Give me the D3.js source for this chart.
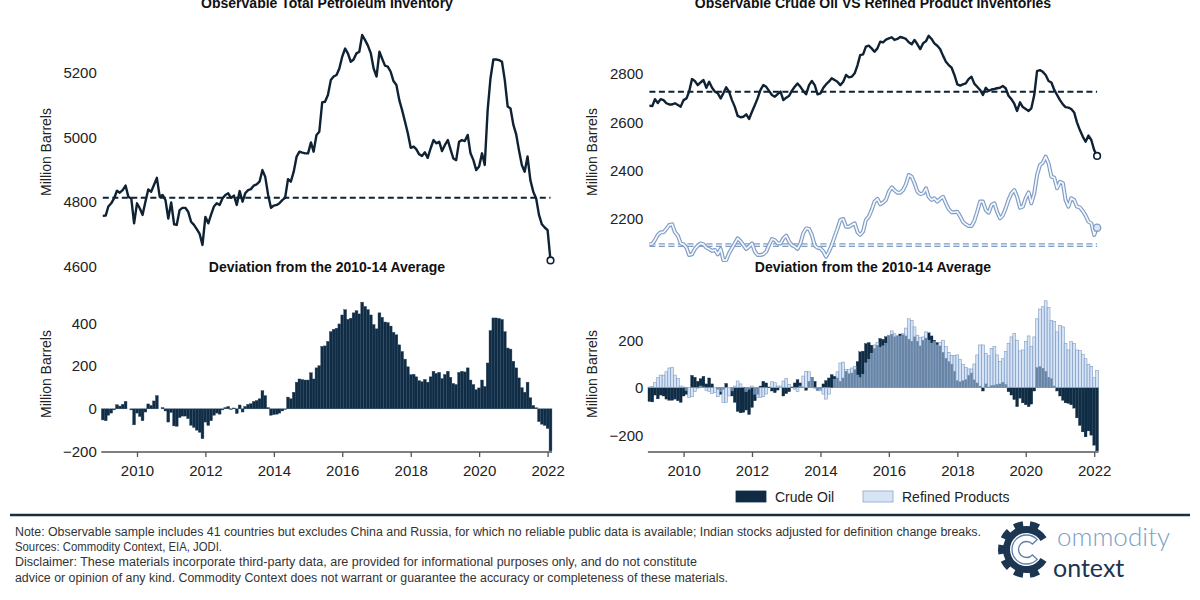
<!DOCTYPE html>
<html><head><meta charset="utf-8">
<script src="https://cdn.jsdelivr.net/npm/d3@7"></script>
<style>
body{margin:0;background:#fff}
svg text{font-family:"Liberation Sans",Arial,Helvetica,sans-serif}
</style></head>
<body><svg id="chart" width="1200" height="600"></svg>
<script>
// ---------- DATA (monthly, Jan 2009 - Feb 2022) ----------
const startYear = 2009;
const totalInv = [4756,4757,4785,4795,4810,4834,4828,4836,4850,4815,4810,4733,4795,4779,4759,4800,4838,4831,4852,4874,4815,4821,4805,4748,4798,4730,4728,4774,4781,4781,4769,4738,4728,4715,4700,4666,4753,4733,4759,4785,4795,4790,4810,4821,4826,4812,4819,4790,4833,4800,4826,4836,4839,4850,4854,4862,4898,4877,4821,4781,4788,4790,4795,4805,4812,4870,4862,4893,4940,4955,4952,4950,4950,4984,4955,5007,5017,5108,5110,5131,5177,5188,5193,5213,5250,5275,5260,5234,5241,5260,5265,5317,5301,5284,5260,5213,5188,5265,5244,5222,5219,5203,5174,5162,5115,5084,5048,5012,4967,4971,4963,4947,4942,4953,4936,4965,4991,4981,4986,4957,4976,4991,4963,4934,4929,4986,4991,4988,5007,4950,4929,4898,4909,4950,4914,5084,5182,5241,5241,5239,5234,5177,5095,5089,5038,5007,4960,4914,4893,4940,4867,4831,4810,4759,4730,4720,4712,4618];
const totalDev = [-52,-56,-30,-20,-5,19,13,21,35,0,-5,-75,-20,-36,-56,-15,23,16,37,62,0,6,-10,-62,-17,-80,-82,-41,-34,-34,-46,-77,-87,-100,-110,-140,-62,-78,-56,-30,-20,-25,-5,6,11,-3,4,-22,18,-15,11,21,24,35,39,47,85,62,6,-30,-27,-25,-20,-10,-3,55,47,78,125,140,137,135,135,169,140,192,202,293,295,316,362,373,378,398,440,465,420,425,450,460,445,500,480,465,440,395,375,450,429,407,404,388,359,347,300,269,233,197,160,162,150,132,127,138,125,150,176,166,171,142,161,176,148,119,114,171,176,173,192,135,114,90,98,135,105,215,367,426,426,424,419,362,285,280,223,192,145,99,78,125,52,16,5,-60,-72,-78,-92,-197];
const crudeInv = [2669,2667,2696,2680,2696,2692,2679,2674,2674,2679,2672,2665,2692,2699,2727,2779,2771,2754,2765,2775,2743,2768,2743,2727,2720,2699,2720,2745,2727,2692,2665,2627,2621,2623,2633,2614,2644,2672,2699,2734,2754,2747,2730,2713,2706,2717,2727,2692,2702,2710,2730,2747,2761,2747,2730,2716,2754,2771,2754,2716,2720,2743,2757,2768,2782,2775,2768,2754,2768,2796,2786,2789,2803,2837,2878,2881,2913,2917,2906,2892,2906,2934,2931,2942,2947,2952,2941,2945,2953,2950,2945,2931,2923,2941,2923,2903,2927,2936,2958,2945,2927,2917,2903,2876,2851,2837,2826,2796,2757,2752,2757,2761,2779,2789,2760,2747,2734,2713,2743,2730,2736,2738,2741,2743,2750,2741,2710,2696,2677,2647,2683,2663,2655,2647,2658,2713,2812,2816,2809,2796,2771,2765,2734,2713,2692,2674,2663,2661,2655,2641,2600,2568,2541,2520,2545,2527,2485,2461];
const refinedInv = [2095,2097,2113,2134,2145,2145,2159,2175,2178,2145,2131,2099,2095,2081,2051,2054,2076,2090,2099,2095,2081,2076,2068,2072,2054,2076,2030,2030,2058,2079,2099,2120,2108,2092,2076,2086,2099,2065,2051,2051,2054,2065,2092,2117,2113,2099,2099,2120,2131,2106,2092,2086,2076,2099,2141,2161,2159,2134,2090,2081,2079,2065,2044,2065,2092,2127,2159,2196,2200,2168,2168,2175,2182,2145,2134,2148,2196,2210,2237,2272,2283,2261,2268,2279,2313,2331,2319,2309,2309,2320,2343,2382,2375,2348,2313,2303,2306,2327,2292,2279,2286,2272,2283,2292,2265,2241,2228,2228,2230,2210,2189,2178,2171,2171,2192,2230,2272,2272,2237,2226,2258,2265,2230,2203,2214,2244,2279,2306,2320,2292,2247,2251,2286,2310,2265,2306,2382,2423,2433,2458,2430,2375,2371,2327,2354,2348,2279,2251,2286,2279,2251,2248,2233,2214,2189,2182,2134,2164];
const crudeDev = [-58,-60,-31,-47,-31,-35,-48,-53,-53,-48,-55,-62,-35,-28,0,52,44,27,38,48,16,41,16,0,-7,-28,-7,18,0,-35,-62,-100,-106,-104,-94,-113,-83,-55,-28,7,27,20,3,-14,-21,-10,0,-35,-25,-17,3,20,34,20,3,-11,27,44,27,-11,-7,16,30,41,55,48,41,27,41,69,59,62,76,110,151,154,186,190,179,165,179,207,204,215,220,225,214,218,226,223,218,204,196,214,196,176,200,209,231,218,200,190,176,149,124,110,99,69,30,25,30,34,52,62,33,20,7,-14,16,3,9,11,14,16,23,14,-17,-31,-50,-80,-44,-64,-72,-80,-69,-14,85,89,82,69,44,38,7,-14,-35,-53,-64,-66,-72,-86,-127,-159,-186,-207,-182,-200,-242,-266];
const refinedDev = [3,5,21,42,53,53,67,83,86,53,39,7,3,-11,-41,-38,-16,-2,7,3,-11,-16,-24,-20,-38,-16,-62,-62,-34,-13,7,28,16,0,-16,-6,7,-27,-41,-41,-38,-27,0,25,21,7,7,28,39,14,0,-6,-16,7,49,69,67,42,-2,-11,-13,-27,-48,-27,0,35,67,104,108,76,76,83,90,53,42,56,104,118,145,180,191,169,176,187,221,239,227,217,217,228,251,290,283,256,221,211,214,235,200,187,194,180,191,200,173,149,136,136,138,118,97,86,79,79,100,138,180,180,145,134,166,173,138,111,122,152,187,214,228,200,155,159,194,218,173,214,290,331,341,366,338,283,279,235,262,256,187,159,194,187,159,156,141,122,97,90,42,72];
const totalAvg = 4812, crudeAvg = 2727, refinedAvg = 2092;
const yearTicks = [2010,2012,2014,2016,2018,2020,2022];
const ticksTL = [4600,4800,5000,5200];
const ticksTR = [2200,2400,2600,2800];
const ticksBL = [-200,0,200,400];
const ticksBR = [-200,0,200];
const legendItems = ["Crude Oil","Refined Products"];
const footLines = [
 "Note: Observable sample includes 41 countries but excludes China and Russia, for which no reliable public data is available; Indian stocks adjusted for definition change breaks.",
 "Sources: Commodity Context, EIA, JODI.",
 "Disclaimer: These materials incorporate third-party data, are provided for informational purposes only, and do not constitute",
 "advice or opinion of any kind. Commodity Context does not warrant or guarantee the accuracy or completeness of these materials."
];

// ---------- SETUP ----------
const svg = d3.select("#chart");
const months = totalInv.map((_, i) => new Date(startYear, i, 1));
const NAVY = "#0e2234", BAR = "#0f2c44", STEEL = "#7f9cc4";
const minus = s => String(s).replace("-", "\u2212");

const xL = d3.scaleTime().domain([new Date(2009,0,1), new Date(2022,0,1)]).range([102.8, 547.6]);
const xR = d3.scaleTime().domain([new Date(2009,0,1), new Date(2022,0,1)]).range([649.4, 1094.2]);
const yTL = d3.scaleLinear().domain([4600, 5200]).range([266.2, 72.7]);
const yTR = d3.scaleLinear().domain([2200, 2800]).range([219, 74]);
const yBL = d3.scaleLinear().domain([-200, 400]).range([451.5, 323.5]);
const yBR = d3.scaleLinear().domain([-200, 200]).range([435.2, 340.2]);
const bw = 2.85;

function yAxis(scale, ticks, xPos) {
  const g = svg.append("g").attr("transform", `translate(${xPos},0)`)
    .call(d3.axisLeft(scale).tickValues(ticks).tickSize(0).tickPadding(6).tickFormat(minus));
  g.select(".domain").remove();
  g.selectAll("text").attr("font-size", 15).attr("fill", "#222")
    .style("font-family", '"Liberation Sans",Arial,sans-serif');
}
function xAxis(scale, yPos) {
  const g = svg.append("g").attr("transform", `translate(0,${yPos})`)
    .call(d3.axisBottom(scale).tickValues(yearTicks.map(y => new Date(y,0,1)))
      .tickSize(5).tickPadding(8.4).tickFormat(d3.timeFormat("%Y")));
  g.select(".domain").remove();
  g.selectAll("line").attr("stroke", "#555").attr("stroke-width", 1.3);
  g.selectAll("text").attr("font-size", 15).attr("fill", "#222")
    .style("font-family", '"Liberation Sans",Arial,sans-serif');
  const r = scale.range();
  g.append("line").attr("x1", r[0] - 1.5).attr("x2", scale(months[months.length-1]) + 1.5)
    .attr("y1", 0).attr("y2", 0).attr("stroke", "#555").attr("stroke-width", 1.5);
}
function title(text, x, y) {
  svg.append("text").attr("x", x).attr("y", y).attr("text-anchor", "middle")
    .attr("font-size", 14).attr("font-weight", "bold").attr("fill", "#111").text(text);
}
function yLabel(x, y) {
  svg.append("text").attr("transform", `translate(${x},${y}) rotate(-90)`)
    .attr("text-anchor", "middle").attr("dy", "0.35em").attr("font-size", 14)
    .attr("fill", "#222").text("Million Barrels");
}

// ---------- TOP LEFT ----------
title("Observable Total Petroleum Inventory", 327, 8);
yAxis(yTL, ticksTL, xL.range()[0]);
yLabel(46, 152);
svg.append("line").attr("x1", xL(months[0])).attr("x2", xL(months[months.length-1]))
  .attr("y1", yTL(totalAvg)).attr("y2", yTL(totalAvg))
  .attr("stroke", NAVY).attr("stroke-width", 2).attr("stroke-dasharray", "6,3.5");
svg.append("path").datum(totalInv)
  .attr("d", d3.line().x((d,i) => xL(months[i])).y(d => yTL(d)))
  .attr("fill", "none").attr("stroke", NAVY).attr("stroke-width", 2.4).attr("stroke-linejoin", "round");
svg.append("circle").attr("cx", xL(months[months.length-1])).attr("cy", yTL(totalInv[totalInv.length-1]))
  .attr("r", 3.3).attr("fill", "#fff").attr("stroke", NAVY).attr("stroke-width", 1.6);

// ---------- TOP RIGHT ----------
title("Observable Crude Oil VS Refined Product Inventories", 873, 8);
yAxis(yTR, ticksTR, xR.range()[0]);
yLabel(592, 152);
const last = months.length - 1;
svg.append("line").attr("x1", xR(months[0])).attr("x2", xR(months[last]))
  .attr("y1", yTR(crudeAvg)).attr("y2", yTR(crudeAvg))
  .attr("stroke", NAVY).attr("stroke-width", 2).attr("stroke-dasharray", "6,3.5");
[[STEEL, 3.6], ["#f4f8fd", 1.4]].forEach(([c, w]) => {
  svg.append("line").attr("x1", xR(months[0])).attr("x2", xR(months[last]))
    .attr("y1", yTR(refinedAvg)).attr("y2", yTR(refinedAvg))
    .attr("stroke", c).attr("stroke-width", w).attr("stroke-dasharray", "6,3.5");
});
svg.append("path").datum(crudeInv)
  .attr("d", d3.line().x((d,i) => xR(months[i])).y(d => yTR(d)))
  .attr("fill", "none").attr("stroke", NAVY).attr("stroke-width", 2.4).attr("stroke-linejoin", "round");
const refLine = d3.line().x((d,i) => xR(months[i])).y(d => yTR(d));
svg.append("path").datum(refinedInv).attr("d", refLine)
  .attr("fill", "none").attr("stroke", STEEL).attr("stroke-width", 4).attr("stroke-linejoin", "round");
svg.append("path").datum(refinedInv).attr("d", refLine)
  .attr("fill", "none").attr("stroke", "#f4f8fd").attr("stroke-width", 1.7).attr("stroke-linejoin", "round");
svg.append("circle").attr("cx", xR(months[last])).attr("cy", yTR(crudeInv[last]))
  .attr("r", 3.3).attr("fill", "#fff").attr("stroke", NAVY).attr("stroke-width", 1.6);
svg.append("circle").attr("cx", xR(months[last])).attr("cy", yTR(refinedInv[last]))
  .attr("r", 3.6).attr("fill", "#dbe7f6").attr("stroke", STEEL).attr("stroke-width", 1.4);

// ---------- BOTTOM LEFT ----------
title("Deviation from the 2010-14 Average", 327, 272);
yAxis(yBL, ticksBL, xL.range()[0]);
yLabel(46, 374);
svg.append("g").selectAll("rect").data(totalDev).join("rect")
  .attr("x", (d,i) => xL(months[i]) - bw/2).attr("width", bw)
  .attr("y", d => yBL(Math.max(0, d))).attr("height", d => Math.abs(yBL(d) - yBL(0)))
  .attr("fill", BAR).attr("stroke", "#2a4763").attr("stroke-width", 0.4);
xAxis(xL, 452);

// ---------- BOTTOM RIGHT ----------
title("Deviation from the 2010-14 Average", 873, 272);
yAxis(yBR, ticksBR, xR.range()[0]);
yLabel(592, 374);
svg.append("g").selectAll("rect").data(crudeDev).join("rect")
  .attr("x", (d,i) => xR(months[i]) - bw/2).attr("width", bw)
  .attr("y", d => yBR(Math.max(0, d))).attr("height", d => Math.abs(yBR(d) - yBR(0)))
  .attr("fill", BAR).attr("stroke", BAR).attr("stroke-width", 0.3);
svg.append("g").selectAll("rect").data(refinedDev).join("rect")
  .attr("x", (d,i) => xR(months[i]) - bw/2).attr("width", bw)
  .attr("y", d => yBR(Math.max(0, d))).attr("height", d => Math.abs(yBR(d) - yBR(0)))
  .attr("fill", "#b4cdee").attr("fill-opacity", 0.55)
  .attr("stroke", STEEL).attr("stroke-width", 0.6);
xAxis(xR, 452);

// legend
const lg = svg.append("g");
const legX = [736, 863];
legendItems.forEach((t, i) => {
  lg.append("rect").attr("x", legX[i]).attr("y", 491).attr("width", 30).attr("height", 11)
    .attr("fill", i === 0 ? BAR : "#d7e4f6").attr("stroke", i === 0 ? BAR : "#8aa5c8").attr("stroke-width", 0.8);
  lg.append("text").attr("x", legX[i] + 39).attr("y", 501.5).attr("font-size", 14)
    .attr("fill", "#222").text(t);
});

// ---------- FOOTER ----------
svg.append("line").attr("x1", 10).attr("x2", 1190).attr("y1", 515).attr("y2", 515)
  .attr("stroke", "#1b2e40").attr("stroke-width", 2.4);
const footW = [966, 207, 682, 713];
footLines.forEach((t, i) => {
  svg.append("text").attr("x", 15).attr("y", 536 + i * 15.2)
    .attr("font-size", 12.5).attr("fill", "#333")
    .style("font-family", '"Liberation Sans Narrow","Arial Narrow","Liberation Sans",Arial,sans-serif')
    .attr("textLength", footW[i]).attr("lengthAdjust", "spacingAndGlyphs").text(t);
});

// logo
const logo = svg.append("g").attr("transform", "translate(1026.5,549.5)");
const open = 0.55;
logo.append("path").attr("d", d3.arc().innerRadius(16.5).outerRadius(23.5)
  .startAngle(Math.PI/2 + open).endAngle(Math.PI/2 + 2*Math.PI - open)()).attr("fill", "#1c3550");
d3.range(10).map(k => k * 2 * Math.PI / 10 + Math.PI / 10).forEach(a => {
  const rel = ((a - Math.PI/2) % (2*Math.PI) + 2*Math.PI) % (2*Math.PI);
  if (rel < 0.7 || rel > 2*Math.PI - 0.7) return;
  logo.append("path").attr("d", d3.arc().innerRadius(22).outerRadius(28.5)
    .startAngle(a - 0.18).endAngle(a + 0.18)()).attr("fill", "#1c3550");
});
logo.append("path").attr("d", d3.arc().innerRadius(8).outerRadius(14.5)
  .startAngle(Math.PI/2 + 0.75).endAngle(Math.PI/2 + 2*Math.PI - 0.75)())
  .attr("fill", "#fff").attr("stroke", "#5b80aa").attr("stroke-width", 1.3);
svg.append("text").attr("x", 1057).attr("y", 546).attr("font-size", 26)
  .style("font-family", "Lato,'Open Sans',sans-serif").attr("font-weight", 300)
  .attr("fill", "#7d9ec6").text("ommodity");
svg.append("text").attr("x", 1053).attr("y", 577).attr("font-size", 25)
  .style("font-family", "Lato,'Open Sans',sans-serif").attr("font-weight", 400)
  .attr("fill", "#1c3550").text("ontext");
</script>
</body></html>
